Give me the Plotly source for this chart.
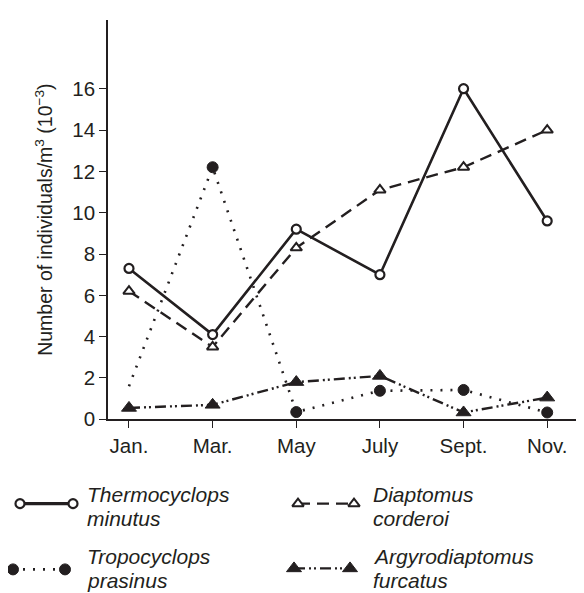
import plotly.graph_objects as go

months = ["Jan.", "Mar.", "May", "July", "Sept.", "Nov."]
thermocyclops = [7.3, 4.1, 9.2, 7.0, 16.0, 9.6]
diaptomus = [6.2, 3.5, 8.3, 11.1, 12.2, 14.0]
tropocyclops = [1.6, 12.2, 0.35, 1.38, 1.42, 0.33]
argyrodiaptomus = [0.55, 0.7, 1.8, 2.1, 0.33, 1.05]
y_ticks = [0, 2, 4, 6, 8, 10, 12, 14, 16]
species_line1 = ["Thermocyclops", "Diaptomus", "Tropocyclops", "Argyrodiaptomus"]
species_line2 = ["minutus", "corderoi", "prasinus", "furcatus"]

INK = "#231f20"
FONT = "Liberation Sans, Arial, Helvetica, sans-serif"

OFF_X = 8                    # horizontal page offset of the figure
PAGE_W, PAGE_H = 584, 593
W, H = PAGE_W - OFF_X, PAGE_H
TOP_PAGE = 12
PLOT_BOTTOM = 419            # page y of value 0
PLOT_LEFT = 108              # page x of y axis
PX_PER_UNIT = 21.06
paper_h = H - TOP_PAGE
LEG_TOP = 429

styles = [
    dict(dash="solid", width=2.6, symbol="circle", size=9, fill="white", mline=2.2),
    dict(dash="12px,7px", width=2.4, symbol="triangle-up", size=10, fill="white", mline=2.0),
    dict(dash="2px,8px", width=2.6, symbol="circle", size=11, fill=INK, mline=1),
    dict(dash="11px,4px,2px,3px,2px,4px", width=2.4, symbol="triangle-up", size=13, fill=INK, mline=1),
]
values = [thermocyclops, diaptomus, tropocyclops, argyrodiaptomus]

fig = go.Figure()
for s, vals in zip(styles, values):
    sizes = [s["size"]] * len(months)
    if vals is tropocyclops:
        sizes[0] = 0  # no marker drawn at January in the source
    fig.add_trace(go.Scatter(
        x=months, y=vals, mode="lines+markers", showlegend=False,
        line=dict(color=INK, width=s["width"], dash=s["dash"]),
        marker=dict(symbol=s["symbol"], size=sizes, color=s["fill"], opacity=1,
                    line=dict(color=INK, width=s["mline"])),
        xaxis="x", yaxis="y",
    ))

# custom legend drawn in a helper axes below the plot (page pixel coordinates)
legend_keys = [  # (x_left_marker, x_right_marker, y, text_x, baseline1, baseline2)
    (20, 73, 505, 86, 502, 526),
    (298, 354, 505, 372, 502, 526),
    (13, 65, 572, 86, 565, 589),
    (294, 350, 571, 372, 565, 589),
]
for s, t1, t2, (x0, x1, yy, tx, b1, b2) in zip(styles, species_line1, species_line2, legend_keys):
    fig.add_trace(go.Scatter(
        x=[x0, x1], y=[yy, yy], mode="lines+markers", showlegend=False,
        line=dict(color=INK, width=s["width"] + (0.6 if s["dash"] == "solid" else 0), dash=s["dash"]),
        marker=dict(symbol=s["symbol"], size=s["size"], color=s["fill"], opacity=1,
                    line=dict(color=INK, width=s["mline"])),
        xaxis="x2", yaxis="y2", hoverinfo="skip",
    ))
    for txt, base in ((t1, b1), (t2, b2)):
        fig.add_annotation(x=tx, y=base - 6, xref="x2", yref="y2", text="<i>" + txt + "</i>",
                           showarrow=False, xanchor="left", yanchor="middle", align="left",
                           borderpad=0, font=dict(family=FONT, size=21, color=INK))

fig.update_layout(
    width=W, height=H,
    margin=dict(l=0, r=0, t=TOP_PAGE, b=0),
    paper_bgcolor="white", plot_bgcolor="white",
    font=dict(family=FONT, color=INK),
    xaxis=dict(
        domain=[(PLOT_LEFT - OFF_X) / W, 1], anchor="y",
        type="category", range=[-0.251, 5.44],
        showline=True, linecolor=INK, linewidth=1.6,
        ticks="outside", ticklen=7, tickwidth=1.4, tickcolor=INK,
        showgrid=False, zeroline=False,
        tickfont=dict(size=20.5, color=INK, family=FONT),
    ),
    yaxis=dict(
        domain=[(PAGE_H - PLOT_BOTTOM) / paper_h, 1], anchor="x",
        range=[0, (PLOT_BOTTOM - TOP_PAGE) / PX_PER_UNIT],
        tickvals=y_ticks,
        showline=True, linecolor=INK, linewidth=1.6,
        ticks="outside", ticklen=7, tickwidth=1.4, tickcolor=INK,
        showgrid=False, zeroline=False,
        tickfont=dict(size=20.5, color=INK, family=FONT),
        title=dict(text="Number of individuals/m<sup>3</sup> (10<sup>−3</sup>)",
                   font=dict(size=19.5, color=INK, family=FONT), standoff=14),
    ),
    xaxis2=dict(domain=[0, 1], range=[OFF_X, PAGE_W], visible=False, anchor="y2"),
    yaxis2=dict(domain=[0, (PAGE_H - LEG_TOP) / paper_h], range=[PAGE_H, LEG_TOP],
                visible=False, anchor="x2"),
)

fig.write_html("out.html")
